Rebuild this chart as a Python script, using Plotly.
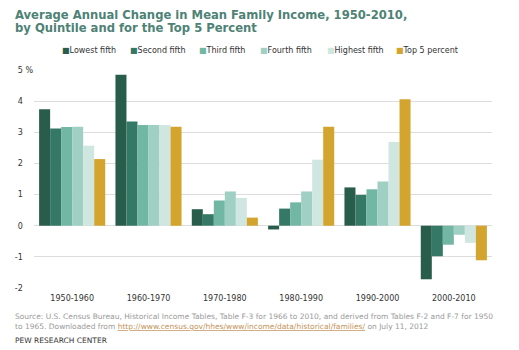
import plotly.graph_objects as go

categories = ["1950-1960", "1960-1970", "1970-1980", "1980-1990", "1990-2000", "2000-2010"]
series_names = ["Lowest fifth", "Second fifth", "Third fifth", "Fourth fifth", "Highest fifth", "Top 5 percent"]
lowest = [3.74, 4.85, 0.53, -0.12, 1.23, -1.72]
second = [3.12, 3.35, 0.37, 0.55, 0.99, -0.98]
third = [3.17, 3.23, 0.81, 0.75, 1.17, -0.61]
fourth = [3.18, 3.23, 1.10, 1.10, 1.42, -0.29]
highest = [2.57, 3.23, 0.89, 2.12, 2.69, -0.55]
top5 = [2.14, 3.18, 0.26, 3.18, 4.06, -1.11]
series_values = [lowest, second, third, fourth, highest, top5]
colors = ["#285d4b", "#367866", "#72b7a3", "#a0d0c4", "#cfe7e0", "#d4a52e"]
ytick_vals = [-2, -1, 0, 1, 2, 3, 4, 5]
ytick_text = ["-2", "-1", "0", "1", "2", "3", "4", "5 %"]
title_lines = ["Average Annual Change in Mean Family Income, 1950-2010,",
               "by Quintile and for the Top 5 Percent"]

W, H = 519, 350
L, R, T, B = 34, 27, 70, 62
pw, ph = W - L - R, H - T - B

def px_x(x):
    return (x - L) / pw

def px_y(y):
    return (H - B - y) / ph

fig = go.Figure()
for name, vals, col in zip(series_names, series_values, colors):
    fig.add_trace(go.Bar(x=categories, y=vals, name=name, marker=dict(color=col, line=dict(width=0)),
                         showlegend=False))

pad = "\u00a0" * 4
fig.update_layout(
    width=W, height=H,
    margin=dict(l=L, r=R, t=T, b=B, pad=0),
    paper_bgcolor="white", plot_bgcolor="white",
    barmode="group", bargap=0.134, bargroupgap=0,
    font=dict(family="DejaVu Sans", size=8, color="#333333"),
    xaxis=dict(showgrid=False, showline=False, ticks="", tickfont=dict(size=8, color="#333333"),
               ticklabelstandoff=4),
    yaxis=dict(range=[-2, 5], tickvals=ytick_vals,
               ticktext=[t if t.endswith("%") else t + pad for t in ytick_text],
               showgrid=True, gridcolor="#dddddd", gridwidth=1, zeroline=False, showline=False,
               ticks="", tickfont=dict(size=8, color="#333333"), ticklabelstandoff=0),
)

anns = []
for line, ty in zip(title_lines, [15, 28.5]):
    anns.append(dict(text=f"<b>{line}</b>", x=px_x(13), y=px_y(ty), xref="paper", yref="paper",
                     xanchor="left", yanchor="middle", showarrow=False,
                     font=dict(family="DejaVu Sans", size=11.6, color="#4e8275")))

legend_x = [60, 128, 197, 258, 325, 394]
for name, col, lx in zip(series_names, colors, legend_x):
    anns.append(dict(text=f"<span style='color:{col}'>■</span>{name}", x=px_x(lx), y=px_y(51),
                     xref="paper", yref="paper", xanchor="left", yanchor="middle", showarrow=False,
                     font=dict(size=8, color="#333333")))

anns.append(dict(text="Source: U.S. Census Bureau, Historical Income Tables, Table F-3 for 1966 to 2010, and derived from Tables F-2 and F-7 for 1950",
                 x=px_x(13), y=px_y(316), xref="paper", yref="paper", xanchor="left", yanchor="middle",
                 showarrow=False, font=dict(size=7.5, color="#9a9a9a")))
anns.append(dict(text="to 1965. Downloaded from <span style='color:#c2935a'><u>http://www.census.gov/hhes/www/income/data/historical/families/</u></span> on July 11, 2012",
                 x=px_x(13), y=px_y(326), xref="paper", yref="paper", xanchor="left", yanchor="middle",
                 showarrow=False, font=dict(size=7.5, color="#9a9a9a")))
anns.append(dict(text="PEW RESEARCH CENTER", x=px_x(13), y=px_y(340), xref="paper", yref="paper",
                 xanchor="left", yanchor="middle", showarrow=False, font=dict(size=7.5, color="#333333")))
fig.update_layout(annotations=anns)

fig.write_html("out.html")
